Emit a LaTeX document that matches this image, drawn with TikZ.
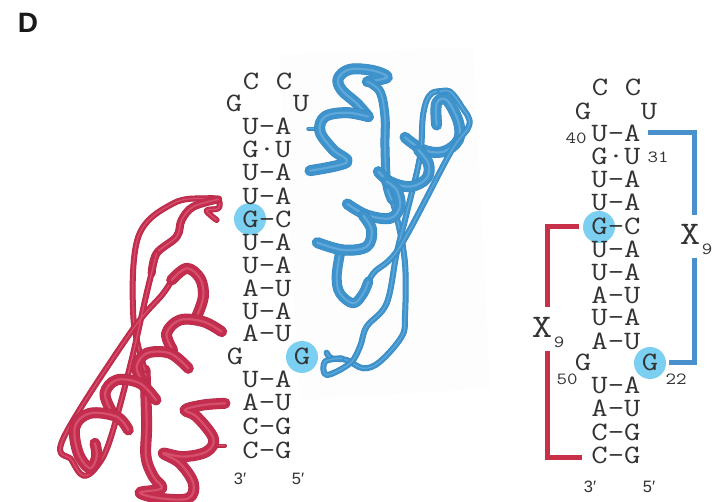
\documentclass[tikz,border=0pt]{standalone}
\usepackage{fontspec}
\setmainfont{Liberation Sans}
\newfontfamily\rnaf[FakeStretch=1.2]{Latin Modern Mono}
\definecolor{bluek}{HTML}{4A90CC}
\definecolor{redk}{HTML}{C8304A}
\definecolor{circ}{HTML}{7BD0F2}
\definecolor{ink}{HTML}{333333}
\definecolor{bd}{HTML}{3788C0}\definecolor{bm}{HTML}{3F93CC}\definecolor{bl}{HTML}{5FA8D9}
\definecolor{rd}{HTML}{B32947}\definecolor{rm}{HTML}{C42E4E}\definecolor{rl}{HTML}{D6506E}
\newcommand\tube[5]{%
 \draw[line cap=round,line join=round,draw=#1,line width=#4pt] plot[smooth,tension=0.6] coordinates {#5};
 \draw[line cap=round,line join=round,draw=#2,line width=#4pt-1pt] plot[smooth,tension=0.6] coordinates {#5};
 \draw[line cap=round,line join=round,draw=#3,line width=#4pt*0.2] plot[smooth,tension=0.6] coordinates {#5};
}
\newcommand\bt[2]{\tube{bd}{bm}{bl}{#1}{#2}}
\newcommand\rt[2]{\tube{rd}{rm}{rl}{#1}{#2}}
\tikzset{
 rna/.style={font=\rnaf\fontsize{26.5}{26.5}\selectfont,text=ink,inner sep=0pt,text height=16pt,text depth=0pt},
 num/.style={font=\rnaf\fontsize{17}{17}\selectfont,text=ink,inner sep=0pt},
 xlab/.style={font=\rnaf\fontsize{33}{33}\selectfont,text=ink,inner sep=0pt},
 prime/.style={font=\fontsize{16.5}{16.5}\selectfont,text=ink,inner sep=0pt},
 hl/.style={circle,fill=circ,minimum size=32pt,inner sep=0pt},
 brk/.style={line width=5pt,line cap=butt,line join=miter},
}
\begin{document}
\begin{tikzpicture}[x=1pt,y=-1pt]
\useasboundingbox (0,0) rectangle (715,502);
\fill[white] (0,0) rectangle (715,502);
\fill[fill=black!0.6!white] (280,55) -- (473,47) -- (490,388) -- (300,400) -- cycle;
% blue protein, in coordinates of a 3x crop
\begin{scope}[shift={(210,50)},x=0.3333pt,y=-0.3333pt]
\bt{4}{(295,236) (340,236)}
\bt{11}{(475,200) (440,160) (395,120) (385,85) (420,58) (490,62) (532,82) (472,95)}
\bt{6}{(530,400) (560,500) (585,640) (585,800) (575,860) (510,935) (460,955) (410,930) (365,925) (350,908)}
\bt{9}{(472,95) (510,125) (525,200) (525,290) (530,400) (545,450)}
\bt{11}{(300,362) (410,337) (370,300) (330,245) (345,200) (410,188) (475,200)}
\bt{11}{(680,225) (680,160) (710,150) (745,215) (745,270) (700,305) (640,300) (585,262)}
\bt{6}{(720,125) (665,130) (640,190) (630,320) (590,490) (560,610) (530,760) (470,830) (450,890) (420,940) (350,975) (345,935) (395,925)}
\bt{6}{(690,125) (720,125) (755,170) (778,225) (720,310) (570,590) (490,670) (460,730)}
\bt{10}{(475,695) (460,730) (430,760) (390,730) (380,680) (390,610)}
\bt{11}{(505,365) (540,395) (600,410) (650,385) (655,340) (625,300)}
\bt{11}{(412,462) (470,495) (540,505) (570,470) (560,420) (530,395)}
\bt{11}{(322,578) (400,600) (470,590) (485,540) (460,497)}
\end{scope}
% red protein
\begin{scope}[shift={(50,190)},x=0.3333pt,y=-0.3333pt]
\rt{4}{(525,767) (495,767)}
\rt{11}{(285,540) (290,700) (288,800) (310,860) (335,895) (270,908) (330,925) (415,925) (430,880) (390,820) (340,790) (400,800) (470,785) (490,745) (440,680) (405,660) (460,645) (525,640)}
\rt{6}{(500,90) (470,62) (505,55) (505,30) (470,25) (370,40) (265,140) (250,380) (285,540)}
\rt{8}{(505,28) (430,50) (395,90) (380,140) (320,190) (305,250)}
\rt{6}{(320,190) (290,310) (240,530) (180,750) (140,830) (100,857) (65,810) (40,745) (240,430) (340,310) (370,260)}
\rt{11}{(365,270) (410,235) (450,265) (460,320) (440,380)}
\rt{11}{(515,425) (460,395) (390,390) (350,430) (368,480)}
\rt{11}{(415,535) (360,490) (290,490) (260,530) (275,570)}
\rt{11}{(318,630) (270,580) (200,570) (165,610) (185,665)}
\rt{11}{(235,720) (200,680) (120,670) (75,710) (85,790) (120,835) (140,800) (135,760)}
\end{scope}
% highlights
\node[hl] (c1) at (250,219) {};
\node[hl] (c2) at (302,357) {};
\node[hl] (c3) at (599,227) {};
\node[hl] (c4) at (650,363) {};
% left stem
\foreach \y/\t [count=\i] in {127/U-A,150/G·U,173/U-A,197/U-A,220/G-C,243/U-A,266/U-A,289/A-U,312/U-A,334/A-U,380/U-A,403/A-U,427/C-G,450/C-G}
  \node[rna] (l\i) at (267,\y) {\t};
\foreach \x/\y/\t [count=\i] in {251/82/C,284/82/C,234/104/G,301/104/U,235/357/G,302/357/G}
  \node[rna] (la\i) at (\x,\y) {\t};
\node[prime] (l3) at (240,479) {3′};
\node[prime] (l5) at (298,479) {5′};
% right stem
\foreach \y/\t [count=\i] in {134/U-A,157/G·U,180/U-A,203/U-A,227/G-C,250/U-A,273/U-A,296/A-U,318/U-A,342/A-U,386/U-A,409/A-U,433/C-G,456/C-G}
  \node[rna] (r\i) at (616,\y) {\t};
\foreach \x/\y/\t [count=\i] in {600/88/C,633/88/C,583/112/G,649/112/U,583/363/G,650/363/G}
  \node[rna] (ra\i) at (\x,\y) {\t};
\node[num] (n40) at (576,138) {40};
\node[num] (n31) at (658,157) {31};
\node[num] (n50) at (567,379) {50};
\node[num] (n22) at (676,379) {22};
\node[xlab] (xb) at (690,234) {X};
\node[num] (xb9) at (707,249) {9};
\node[xlab] (xr) at (542,327) {X};
\node[num] (xr9) at (559,342) {9};
\node[prime] (r3) at (590,487) {3′};
\node[prime] (r5) at (649,487) {5′};
\node[font=\bfseries\fontsize{28}{28}\selectfont,text=black!90,inner sep=0pt] (title) at (28,23) {D};
% brackets
\coordinate (b1) at (648,133); \coordinate (b2) at (694.5,133); \coordinate (b3) at (694.5,215);
\coordinate (b4) at (694.5,258); \coordinate (b5) at (694.5,363); \coordinate (b6) at (669,363);
\draw[brk,bluek] (b1) -- (b2) -- (b3);
\draw[brk,bluek] (b4) -- (b5) -- (b6);
\coordinate (e1) at (579,227); \coordinate (e2) at (547,227); \coordinate (e3) at (547,307);
\coordinate (e4) at (547,351); \coordinate (e5) at (547,457); \coordinate (e6) at (582,457);
\draw[brk,redk] (e1) -- (e2) -- (e3);
\draw[brk,redk] (e4) -- (e5) -- (e6);
\end{tikzpicture}
\end{document}
